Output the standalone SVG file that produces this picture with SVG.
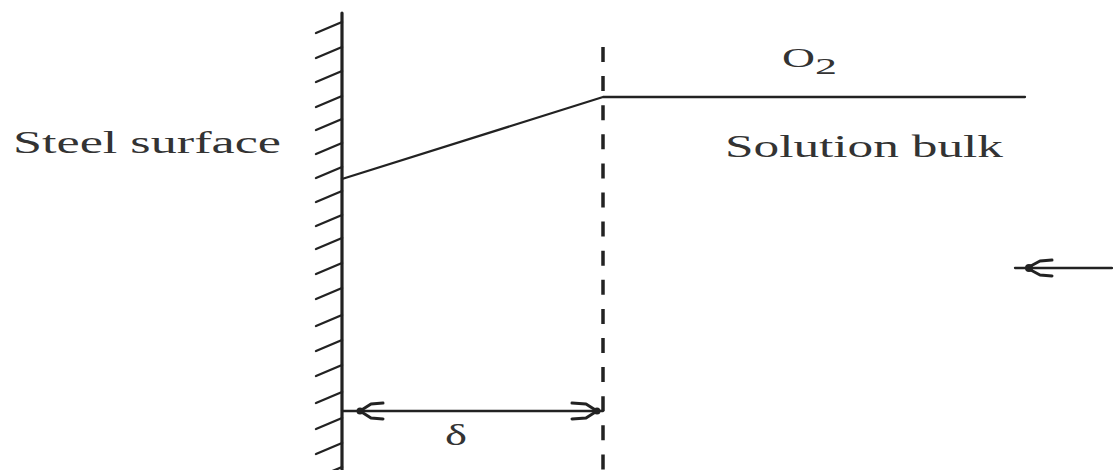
<svg xmlns="http://www.w3.org/2000/svg" width="1113" height="470" viewBox="0 0 1113 470">
<style>
.ln{stroke:#222;fill:none;stroke-linecap:round;stroke-linejoin:round}
.txt{font-family:"Liberation Serif","Times New Roman",serif;fill:#333}
</style>
<defs>
<path id="hatch" d="M342 0 L316 11" class="ln" stroke-width="2.4"/>
</defs>
<rect width="1113" height="470" fill="#fff"/>
<g id="wall">
<line x1="342" y1="13" x2="342" y2="470" class="ln" stroke-width="3.2"/>
<use href="#hatch" y="22"/><use href="#hatch" y="47"/><use href="#hatch" y="71"/><use href="#hatch" y="96"/>
<use href="#hatch" y="119"/><use href="#hatch" y="143"/><use href="#hatch" y="167"/><use href="#hatch" y="191"/>
<use href="#hatch" y="215"/><use href="#hatch" y="238"/><use href="#hatch" y="263"/><use href="#hatch" y="288"/>
<use href="#hatch" y="315"/><use href="#hatch" y="340"/><use href="#hatch" y="365"/><use href="#hatch" y="392"/>
<use href="#hatch" y="418"/><use href="#hatch" y="443"/><use href="#hatch" y="467"/>
</g>
<g id="boundary">
<line x1="603" y1="47" x2="603" y2="470" class="ln" stroke-width="3.5" stroke-dasharray="15 14.1" style="stroke-linecap:butt"/>
</g>
<g id="connectors">
<polyline points="342,179 603,97 1025,97" class="ln" stroke-width="2.3"/>
<g id="delta-arrow">
<line x1="342" y1="411" x2="603" y2="411" class="ln" stroke-width="2.3"/>
<path d="M360 411 L371 404 L383 403 M360 411 L371 418 L383 419" class="ln" stroke-width="3"/>
<circle cx="360" cy="411" r="3.5" fill="#222"/>
<path d="M597 411 L586 404 L572 403 M597 411 L586 418 L572 419" class="ln" stroke-width="3"/>
<circle cx="597" cy="411" r="3.5" fill="#222"/>
</g>
<g id="flow-arrow">
<line x1="1015" y1="268" x2="1112" y2="268" class="ln" stroke-width="2.3"/>
<path d="M1027 268 L1040 261 L1052 260 M1027 268 L1040 275 L1052 276" class="ln" stroke-width="3"/>
<circle cx="1029" cy="268" r="4" fill="#222"/>
</g>
</g>
<g id="labels">
<text x="13" y="153" class="txt" font-size="31" textLength="268" lengthAdjust="spacingAndGlyphs">Steel surface</text>
<text x="725" y="157" class="txt" font-size="31" textLength="278" lengthAdjust="spacingAndGlyphs">Solution bulk</text>
<text x="782" y="67" class="txt" font-size="28" textLength="33" lengthAdjust="spacingAndGlyphs">O</text>
<text x="815" y="74" class="txt" font-size="23" textLength="22" lengthAdjust="spacingAndGlyphs">2</text>
<text x="445" y="445" class="txt" font-size="30" textLength="22" lengthAdjust="spacingAndGlyphs">δ</text>
</g>
</svg>
